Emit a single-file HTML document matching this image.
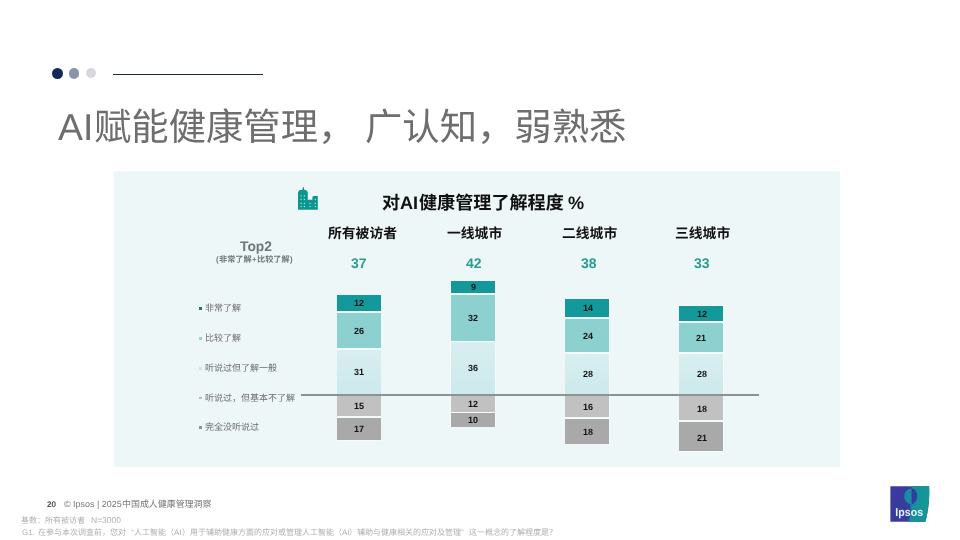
<!DOCTYPE html>
<html lang="zh-CN"><head><meta charset="utf-8"><title>AI赋能健康管理，广认知，弱熟悉</title>
<style>
html,body{margin:0;padding:0}
body{width:960px;height:540px;overflow:hidden;background:#fff;position:relative;font-family:"Liberation Sans","Noto Sans CJK SC",sans-serif}
#slide{position:absolute;left:0;top:0;width:960px;height:540px;overflow:hidden;background:#fff}
h1,h2,p{margin:0;padding:0;font-size:inherit;font-weight:normal}
.r,.dot,.g,.t{position:absolute;display:block}
.dot{border-radius:50%}
.t{will-change:transform;text-rendering:geometricPrecision;white-space:nowrap;font-family:"Liberation Sans","Noto Sans CJK SC",sans-serif}
svg.g{overflow:visible}
</style></head>
<body><div id="slide">
<div class="dot" style="left:52px;top:67.5px;width:11px;height:11px;background:#10285a"></div>
<div class="dot" style="left:68.8px;top:68px;width:10.5px;height:10.5px;background:#8795a8"></div>
<div class="dot" style="left:85.6px;top:68.2px;width:10px;height:10px;background:#d6d8de"></div>
<div class="r" style="left:113px;top:73.6px;width:149.5px;height:1.3px;background:#1c2b3a"></div>
<h1><span class="t" style="left:58.30px;top:104.77px;font-size:37.33px;line-height:45px;color:#6e6e6e;">AI</span><span class="t" style="left:93.57px;top:108.60px;font-size:37.33px;line-height:37.33px;color:#6e6e6e;">赋能健康管理，</span><span class="t" style="left:354.88px;top:104.77px;font-size:37.33px;line-height:45px;color:#6e6e6e;">&nbsp;</span><span class="t" style="left:365.25px;top:108.60px;font-size:37.33px;line-height:37.33px;color:#6e6e6e;">广认知，弱熟悉</span></h1>
<div class="r" style="left:114px;top:171px;width:726px;height:296px;background:#eef7f7;border-radius:2px"></div>
<svg class="g" style="left:296px;top:185px" width="24" height="27" viewBox="296 185 24 27">
<path fill="#0f958e" d="M298 209.7V192.2l1.6-2.2h2.6l0.8-3h0.6l0.8 3h1.8l1.6 2.2v7.5h4.6v-2.6l1.2-1.2h4.2v13.8z"/>
<g fill="#7ff0ea"><rect x="300.5" y="195.2" width="1.2" height="1.2"/><rect x="303.8" y="195.2" width="1.2" height="1.2"/>
<rect x="300.5" y="198.9" width="1.2" height="1.2"/><rect x="303.8" y="198.9" width="1.2" height="1.2"/>
<rect x="300.5" y="202.8" width="1.2" height="1.2"/><rect x="303.8" y="202.8" width="1.2" height="1.2"/>
<rect x="300.5" y="205.9" width="1.2" height="1.2"/><rect x="303.8" y="205.9" width="1.2" height="1.2"/>
<rect x="309.4" y="202.8" width="1.2" height="1.2"/><rect x="309.4" y="205.9" width="1.2" height="1.2"/>
<rect x="314.8" y="198.9" width="1.2" height="1.2"/><rect x="314.8" y="202.8" width="1.2" height="1.2"/><rect x="314.8" y="205.9" width="1.2" height="1.2"/></g>
</svg>
<h2><span class="t" style="left:382.30px;top:193.67px;font-size:18.1px;line-height:18.1px;color:#111;font-weight:bold;">对</span><span class="t" style="left:400.40px;top:191.73px;font-size:18.1px;line-height:22px;color:#111;font-weight:bold;">AI</span><span class="t" style="left:418.50px;top:193.67px;font-size:18.1px;line-height:18.1px;color:#111;font-weight:bold;">健康管理了解程度</span><span class="t" style="left:563.30px;top:191.73px;font-size:18.1px;line-height:22px;color:#111;font-weight:bold;">&nbsp;%</span></h2>
<span class="t" style="left:328.00px;top:226.62px;font-size:13.8px;line-height:13.8px;color:#111;font-weight:bold;">所有被访者</span>
<span class="t" style="left:351.11px;top:254.65px;font-size:14px;line-height:17px;color:#2a9d8f;font-weight:bold;">37</span>
<span class="t" style="left:447.20px;top:226.62px;font-size:13.8px;line-height:13.8px;color:#111;font-weight:bold;">一线城市</span>
<span class="t" style="left:466.21px;top:254.65px;font-size:14px;line-height:17px;color:#2a9d8f;font-weight:bold;">42</span>
<span class="t" style="left:561.70px;top:226.62px;font-size:13.8px;line-height:13.8px;color:#111;font-weight:bold;">二线城市</span>
<span class="t" style="left:581.01px;top:254.65px;font-size:14px;line-height:17px;color:#2a9d8f;font-weight:bold;">38</span>
<span class="t" style="left:675.00px;top:226.62px;font-size:13.8px;line-height:13.8px;color:#111;font-weight:bold;">三线城市</span>
<span class="t" style="left:694.21px;top:254.65px;font-size:14px;line-height:17px;color:#2a9d8f;font-weight:bold;">33</span>
<span class="t" style="left:239.72px;top:237.52px;font-size:13.8px;line-height:17px;color:#70777c;font-weight:bold;">Top2</span>
<span class="t" style="left:216.07px;top:255.40px;font-size:7.8px;line-height:9px;color:#70777c;font-weight:bold;letter-spacing:0.7px;">(</span><span class="t" style="left:219.37px;top:255.70px;font-size:8.15px;line-height:8.15px;color:#70777c;font-weight:bold;">非常了解</span><span class="t" style="left:251.97px;top:255.40px;font-size:7.8px;line-height:9px;color:#70777c;font-weight:bold;letter-spacing:0.7px;">+</span><span class="t" style="left:257.23px;top:255.70px;font-size:8.15px;line-height:8.15px;color:#70777c;font-weight:bold;">比较了解</span><span class="t" style="left:289.83px;top:255.40px;font-size:7.8px;line-height:9px;color:#70777c;font-weight:bold;letter-spacing:0.7px;">)</span>
<div class="r" style="left:199.3px;top:306.9px;width:2.8px;height:2.8px;background:#20786d"></div>
<span class="t" style="left:204.50px;top:304.18px;font-size:9.0px;line-height:9.0px;color:#6e6e6e;">非常了解</span>
<div class="r" style="left:199.3px;top:337.2px;width:2.8px;height:2.8px;background:#a3cdcd"></div>
<span class="t" style="left:204.50px;top:334.48px;font-size:9.0px;line-height:9.0px;color:#6e6e6e;">比较了解</span>
<div class="r" style="left:199.3px;top:367.0px;width:2.8px;height:2.8px;background:#d6e2e2"></div>
<span class="t" style="left:204.50px;top:364.28px;font-size:9.0px;line-height:9.0px;color:#6e6e6e;">听说过但了解一般</span>
<div class="r" style="left:199.3px;top:396.7px;width:2.8px;height:2.8px;background:#b5bcbc"></div>
<span class="t" style="left:204.50px;top:393.98px;font-size:9.0px;line-height:9.0px;color:#6e6e6e;">听说过，但基本不了解</span>
<div class="r" style="left:199.3px;top:426.2px;width:2.8px;height:2.8px;background:#8e9494"></div>
<span class="t" style="left:204.50px;top:423.48px;font-size:9.0px;line-height:9.0px;color:#6e6e6e;">完全没听说过</span>
<div class="r" style="left:336.7px;top:294.3px;width:44.7px;height:146.7px;background:#f3fbfb"></div>
<div class="r" style="left:337.3px;top:295.1px;width:43.5px;height:16.3px;background:#13999a"></div>
<div class="r" style="left:337.3px;top:312.9px;width:43.5px;height:35.4px;background:#8dd0d0"></div>
<div class="r" style="left:337.3px;top:350.1px;width:43.5px;height:44.1px;background:linear-gradient(#d9eef0,#cce9ec)"></div>
<div class="r" style="left:337.3px;top:395.2px;width:43.5px;height:20.5px;background:#c1c1c1"></div>
<div class="r" style="left:337.3px;top:417.7px;width:43.5px;height:22.7px;background:#a9a9a9"></div>
<span class="t" style="left:354.04px;top:298.48px;font-size:9.0px;line-height:11px;color:#111;font-weight:bold;">12</span>
<span class="t" style="left:354.04px;top:325.83px;font-size:9.0px;line-height:11px;color:#111;font-weight:bold;">26</span>
<span class="t" style="left:354.04px;top:367.38px;font-size:9.0px;line-height:11px;color:#111;font-weight:bold;">31</span>
<span class="t" style="left:354.04px;top:400.68px;font-size:9.0px;line-height:11px;color:#111;font-weight:bold;">15</span>
<span class="t" style="left:354.04px;top:424.28px;font-size:9.0px;line-height:11px;color:#111;font-weight:bold;">17</span>
<div class="r" style="left:450.4px;top:280.3px;width:45.2px;height:147.0px;background:#f3fbfb"></div>
<div class="r" style="left:451.0px;top:281.1px;width:44.0px;height:11.8px;background:#13999a"></div>
<div class="r" style="left:451.0px;top:294.9px;width:44.0px;height:45.8px;background:#8dd0d0"></div>
<div class="r" style="left:451.0px;top:342.3px;width:44.0px;height:51.9px;background:linear-gradient(#d9eef0,#cce9ec)"></div>
<div class="r" style="left:451.0px;top:395.2px;width:44.0px;height:16.4px;background:#c1c1c1"></div>
<div class="r" style="left:451.0px;top:413.4px;width:44.0px;height:13.3px;background:#a9a9a9"></div>
<span class="t" style="left:470.50px;top:282.23px;font-size:9.0px;line-height:11px;color:#111;font-weight:bold;">9</span>
<span class="t" style="left:467.99px;top:313.03px;font-size:9.0px;line-height:11px;color:#111;font-weight:bold;">32</span>
<span class="t" style="left:467.99px;top:363.48px;font-size:9.0px;line-height:11px;color:#111;font-weight:bold;">36</span>
<span class="t" style="left:467.99px;top:398.63px;font-size:9.0px;line-height:11px;color:#111;font-weight:bold;">12</span>
<span class="t" style="left:467.99px;top:415.28px;font-size:9.0px;line-height:11px;color:#111;font-weight:bold;">10</span>
<div class="r" style="left:564.5px;top:298.5px;width:45.0px;height:145.9px;background:#f3fbfb"></div>
<div class="r" style="left:565.1px;top:299.3px;width:43.8px;height:18.0px;background:#13999a"></div>
<div class="r" style="left:565.1px;top:319.1px;width:43.8px;height:33.1px;background:#8dd0d0"></div>
<div class="r" style="left:565.1px;top:354.3px;width:43.8px;height:39.9px;background:linear-gradient(#d9eef0,#cce9ec)"></div>
<div class="r" style="left:565.1px;top:395.2px;width:43.8px;height:22.1px;background:#c1c1c1"></div>
<div class="r" style="left:565.1px;top:419.3px;width:43.8px;height:24.5px;background:#a9a9a9"></div>
<span class="t" style="left:582.59px;top:303.43px;font-size:9.0px;line-height:11px;color:#111;font-weight:bold;">14</span>
<span class="t" style="left:582.59px;top:331.38px;font-size:9.0px;line-height:11px;color:#111;font-weight:bold;">24</span>
<span class="t" style="left:582.59px;top:369.38px;font-size:9.0px;line-height:11px;color:#111;font-weight:bold;">28</span>
<span class="t" style="left:582.59px;top:401.78px;font-size:9.0px;line-height:11px;color:#111;font-weight:bold;">16</span>
<span class="t" style="left:582.59px;top:426.88px;font-size:9.0px;line-height:11px;color:#111;font-weight:bold;">18</span>
<div class="r" style="left:678.6px;top:305.2px;width:45.2px;height:146.5px;background:#f3fbfb"></div>
<div class="r" style="left:679.2px;top:306.0px;width:44.0px;height:15.3px;background:#13999a"></div>
<div class="r" style="left:679.2px;top:323.3px;width:44.0px;height:28.9px;background:#8dd0d0"></div>
<div class="r" style="left:679.2px;top:354.3px;width:44.0px;height:39.9px;background:linear-gradient(#d9eef0,#cce9ec)"></div>
<div class="r" style="left:679.2px;top:395.2px;width:44.0px;height:24.8px;background:#c1c1c1"></div>
<div class="r" style="left:679.2px;top:422.2px;width:44.0px;height:28.9px;background:#a9a9a9"></div>
<span class="t" style="left:696.79px;top:309.08px;font-size:9.0px;line-height:11px;color:#111;font-weight:bold;">12</span>
<span class="t" style="left:696.49px;top:333.18px;font-size:9.0px;line-height:11px;color:#111;font-weight:bold;">21</span>
<span class="t" style="left:696.69px;top:369.38px;font-size:9.0px;line-height:11px;color:#111;font-weight:bold;">28</span>
<span class="t" style="left:697.19px;top:404.13px;font-size:9.0px;line-height:11px;color:#111;font-weight:bold;">18</span>
<span class="t" style="left:697.49px;top:432.88px;font-size:9.0px;line-height:11px;color:#111;font-weight:bold;">21</span>
<div class="r" style="left:301.3px;top:394.2px;width:457.5px;height:1.5px;background:#8b9393"></div>
<span class="t" style="left:46.60px;top:500.16px;font-size:8.2px;line-height:10px;color:#555;font-weight:bold;">20</span>
<p><span class="t" style="left:64.20px;top:499.30px;font-size:8.95px;line-height:11px;color:#777;">©&nbsp;Ipsos&nbsp;|&nbsp;2025</span><span class="t" style="left:121.88px;top:500.32px;font-size:8.95px;line-height:8.95px;color:#777;">中国成人健康管理洞察</span></p>
<p><span class="t" style="left:21.20px;top:516.63px;font-size:8.0px;line-height:8.0px;color:#b0b0b0;">基数：所有被访者</span><span class="t" style="left:90.60px;top:515.45px;font-size:8.5px;line-height:10px;color:#b0b0b0;">N=3000</span></p>
<p><span class="t" style="left:22.30px;top:527.53px;font-size:8.0px;line-height:10px;color:#b0b0b0;">G1.</span><span class="t" style="left:38.20px;top:528.53px;font-size:8.0px;line-height:8.0px;color:#b0b0b0;">在参与本次调查前，您对<span style="display:inline-block;width:1em;text-align:right">“</span>人工智能（</span><span class="t" style="left:174.20px;top:527.53px;font-size:8.0px;line-height:10px;color:#b0b0b0;">AI</span><span class="t" style="left:181.76px;top:528.53px;font-size:8.0px;line-height:8.0px;color:#b0b0b0;">）用于辅助健康方面的应对或管理人工智能（</span><span class="t" style="left:341.76px;top:527.53px;font-size:8.0px;line-height:10px;color:#b0b0b0;">AI</span><span class="t" style="left:349.32px;top:528.53px;font-size:8.0px;line-height:8.0px;color:#b0b0b0;">）辅助与健康相关的应对及管理<span style="display:inline-block;width:1em;text-align:left">”</span>这一概念的了解程度是？</span></p>
<svg class="g" style="left:888px;top:484px;will-change:transform" width="44" height="40" viewBox="888 484 44 40">
<defs><clipPath id="lc"><path d="M890.4 486.2H929.1C929.7 497 928.6 510 925.4 521.8H890.4z"/></clipPath>
<linearGradient id="lg1" x1="0" y1="0" x2="1" y2="0"><stop offset="0" stop-color="#3a3a9c"/><stop offset="1" stop-color="#35439f"/></linearGradient>
<linearGradient id="lg2" x1="0" y1="0" x2="1" y2="0"><stop offset="0" stop-color="#178a9c"/><stop offset="1" stop-color="#139b98"/></linearGradient></defs>
<g clip-path="url(#lc)">
<rect x="890" y="486" width="40" height="36" fill="url(#lg1)"/>
<path d="M911.6 486H930V522H908.2C910.6 516.5 911.2 510 910.4 505.4L911.6 504z" fill="url(#lg2)"/>
<path d="M911.7 488.6C907 489 904 492.6 904.3 497C904.6 500.6 907 503.4 911.7 505z" fill="#1a8ba2"/>
<path d="M911.7 488.6C915.8 489.2 917.3 492.6 917.1 496.8C916.9 500.4 915.4 502.8 911.7 504.4z" fill="#2d3e9d"/>
</g>
<text x="895.3" y="515.7" text-rendering="geometricPrecision" font-family="Liberation Sans, sans-serif" font-weight="bold" font-size="11.4" fill="#e6f4ff" textLength="27.8" lengthAdjust="spacingAndGlyphs">Ipsos</text>
</svg>
</div></body></html>
